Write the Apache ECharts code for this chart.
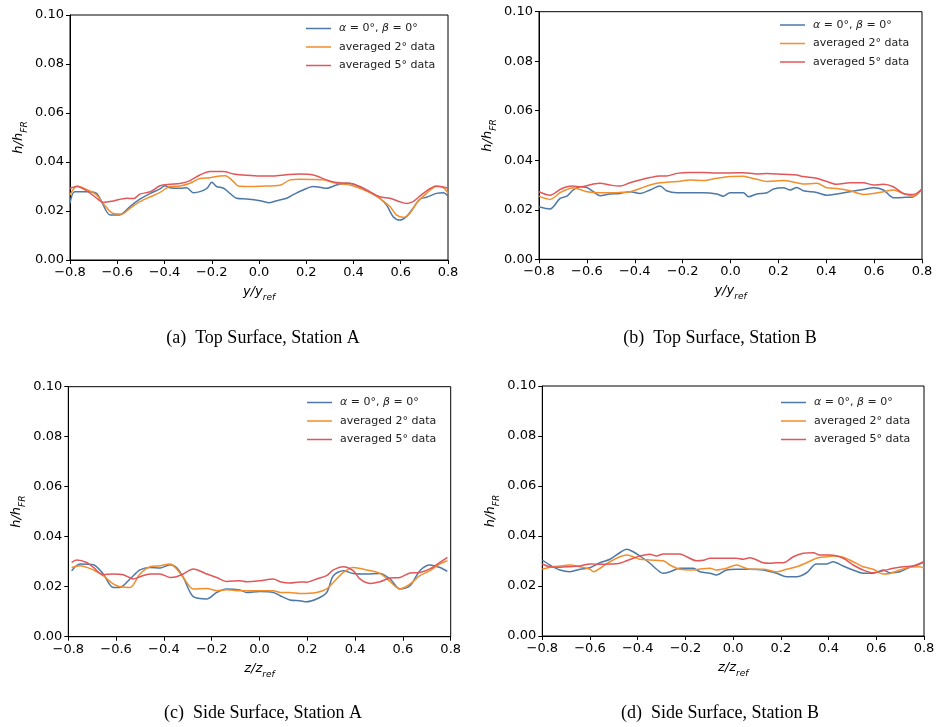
<!DOCTYPE html>
<html><head><meta charset="utf-8">
<script src="https://cdn.jsdelivr.net/npm/echarts@6/dist/echarts.min.js"></script>
<style>html,body{margin:0;padding:0;background:#fff}#c{width:943px;height:727px}</style>
</head><body><div id="c"></div>
<script>
// ---- data ----
const seriesNames = ['α = 0°, β = 0°', 'averaged 2° data', 'averaged 5° data'];
const captions = ['(a)  Top Surface, Station A', '(b)  Top Surface, Station B', '(c)  Side Surface, Station A', '(d)  Side Surface, Station B'];
const xTicks = [-0.8, -0.6, -0.4, -0.2, 0.0, 0.2, 0.4, 0.6, 0.8];
const yTicks = [0.00, 0.02, 0.04, 0.06, 0.08, 0.10];

// (a) Top Surface, Station A
const aBlueX = [-0.8,-0.78,-0.715,-0.687,-0.67,-0.63,-0.59,-0.546,-0.504,-0.46,-0.419,-0.398,-0.377,-0.334,-0.306,-0.278,-0.25,-0.22,-0.20,-0.18,-0.15,-0.123,-0.095,-0.052,0.004,0.04,0.075,0.117,0.145,0.187,0.23,0.258,0.286,0.328,0.37,0.399,0.427,0.469,0.511,0.54,0.568,0.596,0.624,0.652,0.68,0.709,0.751,0.78,0.8];
const aBlueY = [0.0231,0.0279,0.0279,0.0272,0.0245,0.0184,0.0184,0.0218,0.0248,0.0272,0.0290,0.0303,0.0295,0.0293,0.0295,0.0275,0.0279,0.0293,0.0317,0.0300,0.0293,0.0272,0.0252,0.0249,0.0242,0.0234,0.0242,0.0252,0.0267,0.0286,0.0300,0.0297,0.0293,0.0306,0.0313,0.0310,0.0297,0.0276,0.0252,0.0224,0.0177,0.0163,0.0177,0.0211,0.0248,0.0256,0.0272,0.0275,0.0261];
const aOrangeX = [-0.8,-0.77,-0.73,-0.687,-0.66,-0.617,-0.58,-0.546,-0.504,-0.46,-0.419,-0.377,-0.334,-0.292,-0.25,-0.207,-0.165,-0.143,-0.108,-0.087,-0.038,0.004,0.089,0.131,0.173,0.23,0.272,0.328,0.385,0.427,0.469,0.511,0.554,0.582,0.61,0.638,0.666,0.709,0.751,0.78,0.8];
const aOrangeY = [0.0265,0.0302,0.0288,0.0265,0.0231,0.0190,0.0188,0.0211,0.0238,0.0258,0.0276,0.0300,0.0302,0.0313,0.0333,0.0336,0.0343,0.0344,0.0320,0.0302,0.0300,0.0301,0.0305,0.0327,0.0330,0.0329,0.0327,0.0313,0.0306,0.0293,0.0275,0.0252,0.0218,0.0184,0.0174,0.0190,0.0231,0.0272,0.0300,0.0295,0.0272];
const aRedX = [-0.8,-0.77,-0.73,-0.687,-0.66,-0.617,-0.56,-0.53,-0.504,-0.46,-0.419,-0.377,-0.334,-0.292,-0.25,-0.207,-0.15,-0.108,-0.066,0.004,0.06,0.117,0.173,0.23,0.286,0.328,0.385,0.427,0.469,0.511,0.554,0.596,0.624,0.652,0.695,0.751,0.8];
const aRedY = [0.0293,0.0300,0.0283,0.0252,0.0235,0.0241,0.0252,0.0251,0.0269,0.0279,0.0303,0.0309,0.0312,0.0324,0.0347,0.0361,0.0361,0.0351,0.0347,0.0343,0.0343,0.0348,0.0351,0.0347,0.0327,0.0316,0.0313,0.0300,0.0279,0.0258,0.0252,0.0238,0.0231,0.0238,0.0272,0.0302,0.0293];

// (b) Top Surface, Station B
const bBlueX = [-0.8,-0.754,-0.712,-0.684,-0.657,-0.629,-0.60,-0.573,-0.545,-0.503,-0.462,-0.42,-0.378,-0.336,-0.294,-0.267,-0.225,-0.169,-0.113,-0.058,-0.03,-0.002,0.054,0.075,0.11,0.152,0.18,0.221,0.249,0.277,0.304,0.36,0.402,0.444,0.499,0.555,0.597,0.639,0.68,0.722,0.764,0.8];
const bBlueY = [0.0212,0.0203,0.0246,0.0255,0.0280,0.0293,0.0290,0.0273,0.0257,0.0264,0.0266,0.0273,0.0266,0.0280,0.0296,0.0277,0.0269,0.0269,0.0269,0.0264,0.0255,0.0269,0.0269,0.0253,0.0264,0.0269,0.0284,0.0289,0.0280,0.0290,0.0277,0.0270,0.0259,0.0264,0.0273,0.0282,0.0289,0.0280,0.0249,0.0250,0.0253,0.0284];
const bOrangeX = [-0.8,-0.754,-0.712,-0.684,-0.657,-0.629,-0.60,-0.545,-0.503,-0.462,-0.42,-0.378,-0.336,-0.294,-0.225,-0.169,-0.113,-0.058,-0.002,0.054,0.075,0.11,0.152,0.221,0.277,0.304,0.36,0.402,0.444,0.499,0.555,0.597,0.639,0.68,0.722,0.764,0.8];
const bOrangeY = [0.0255,0.0242,0.0269,0.0282,0.0289,0.0282,0.0273,0.0269,0.0269,0.0270,0.0273,0.0286,0.0300,0.0309,0.0314,0.0320,0.0318,0.0327,0.0334,0.0335,0.0331,0.0323,0.0314,0.0318,0.0309,0.0304,0.0307,0.0289,0.0286,0.0277,0.0262,0.0266,0.0273,0.0280,0.0266,0.0255,0.0284];
const bRedX = [-0.8,-0.754,-0.712,-0.684,-0.657,-0.629,-0.573,-0.545,-0.503,-0.462,-0.42,-0.378,-0.336,-0.294,-0.267,-0.225,-0.169,-0.113,-0.058,-0.002,0.054,0.11,0.152,0.221,0.277,0.304,0.36,0.402,0.444,0.499,0.555,0.597,0.639,0.68,0.722,0.764,0.8];
const bRedY = [0.0273,0.0259,0.0282,0.0293,0.0296,0.0293,0.0304,0.0307,0.0300,0.0296,0.0309,0.0320,0.0330,0.0336,0.0336,0.0347,0.0351,0.0351,0.0349,0.0349,0.0350,0.0345,0.0347,0.0343,0.0340,0.0334,0.0327,0.0314,0.0303,0.0309,0.0309,0.0300,0.0303,0.0293,0.0266,0.0262,0.0284];

// (c) Side Surface, Station A
const cBlueX = [-0.786,-0.751,-0.695,-0.654,-0.612,-0.584,-0.542,-0.50,-0.458,-0.416,-0.375,-0.347,-0.319,-0.277,-0.221,-0.179,-0.138,-0.082,-0.054,0.002,0.058,0.086,0.127,0.169,0.197,0.239,0.281,0.309,0.351,0.392,0.448,0.504,0.546,0.588,0.63,0.671,0.713,0.755,0.786];
const cBlueY = [0.0264,0.0291,0.0288,0.0251,0.0197,0.0197,0.0231,0.0267,0.0277,0.0275,0.0288,0.0277,0.0237,0.0160,0.0151,0.0177,0.0191,0.0187,0.0177,0.0181,0.0177,0.0164,0.0147,0.0144,0.0140,0.0151,0.0177,0.0244,0.0264,0.0253,0.0251,0.0253,0.0231,0.0191,0.0204,0.0264,0.0287,0.0277,0.0261];
const cOrangeX = [-0.786,-0.751,-0.695,-0.654,-0.612,-0.584,-0.542,-0.50,-0.458,-0.416,-0.375,-0.347,-0.319,-0.277,-0.221,-0.179,-0.138,-0.082,0.002,0.058,0.086,0.127,0.169,0.239,0.281,0.309,0.351,0.392,0.448,0.504,0.546,0.588,0.63,0.671,0.713,0.755,0.786];
const cOrangeY = [0.0277,0.0284,0.0267,0.0244,0.0211,0.0200,0.0197,0.0251,0.0280,0.0284,0.0291,0.0271,0.0237,0.0191,0.0193,0.0184,0.0188,0.0184,0.0184,0.0184,0.0177,0.0177,0.0173,0.0177,0.0191,0.0217,0.0257,0.0277,0.0267,0.0253,0.0221,0.0191,0.0211,0.0244,0.0264,0.0291,0.0304];
const cRedX = [-0.786,-0.765,-0.723,-0.695,-0.654,-0.612,-0.570,-0.528,-0.50,-0.458,-0.416,-0.375,-0.347,-0.319,-0.277,-0.221,-0.179,-0.138,-0.082,-0.054,0.002,0.058,0.086,0.127,0.169,0.197,0.239,0.281,0.309,0.351,0.392,0.420,0.462,0.504,0.546,0.588,0.63,0.671,0.713,0.755,0.786];
const cRedY = [0.0297,0.0307,0.0297,0.0277,0.0248,0.0251,0.0248,0.0231,0.0240,0.0251,0.0251,0.0237,0.0240,0.0251,0.0271,0.0251,0.0237,0.0221,0.0224,0.0220,0.0224,0.0231,0.0220,0.0215,0.0219,0.0218,0.0231,0.0244,0.0267,0.0280,0.0264,0.0231,0.0213,0.0220,0.0235,0.0237,0.0255,0.0257,0.0271,0.0297,0.0317];

// (d) Side Surface, Station B
const dBlueX = [-0.8,-0.768,-0.726,-0.684,-0.642,-0.60,-0.558,-0.516,-0.475,-0.447,-0.419,-0.391,-0.349,-0.321,-0.293,-0.265,-0.223,-0.167,-0.139,-0.097,-0.07,-0.028,0.014,0.07,0.126,0.182,0.224,0.266,0.308,0.349,0.391,0.419,0.461,0.503,0.545,0.587,0.629,0.657,0.699,0.74,0.782,0.8];
const dBlueY = [0.0304,0.0284,0.0264,0.0257,0.0267,0.0273,0.0293,0.0307,0.0333,0.0347,0.0337,0.0320,0.0291,0.0267,0.0251,0.0257,0.0271,0.0271,0.0257,0.0251,0.0244,0.0264,0.0267,0.0267,0.0264,0.0251,0.0237,0.0237,0.0253,0.0288,0.0288,0.0297,0.0280,0.0264,0.0251,0.0251,0.0264,0.0253,0.0257,0.0275,0.0288,0.0297];
const dOrangeX = [-0.8,-0.768,-0.726,-0.684,-0.642,-0.60,-0.586,-0.558,-0.516,-0.475,-0.447,-0.419,-0.391,-0.349,-0.293,-0.265,-0.223,-0.167,-0.139,-0.097,-0.07,-0.028,0.014,0.042,0.07,0.126,0.182,0.224,0.266,0.308,0.349,0.391,0.419,0.461,0.503,0.545,0.587,0.629,0.657,0.699,0.74,0.782,0.8];
const dOrangeY = [0.0267,0.0275,0.0280,0.0284,0.0277,0.0267,0.0257,0.0271,0.0297,0.0317,0.0324,0.0317,0.0307,0.0304,0.0301,0.0284,0.0267,0.0264,0.0268,0.0271,0.0264,0.0271,0.0284,0.0275,0.0267,0.0267,0.0257,0.0267,0.0277,0.0293,0.0311,0.0317,0.0320,0.0315,0.0297,0.0277,0.0267,0.0248,0.0250,0.0264,0.0275,0.0277,0.0271];
const dRedX = [-0.8,-0.768,-0.726,-0.684,-0.642,-0.60,-0.558,-0.516,-0.475,-0.447,-0.419,-0.391,-0.349,-0.321,-0.293,-0.223,-0.195,-0.153,-0.125,-0.097,-0.042,0.014,0.042,0.07,0.126,0.154,0.182,0.21,0.252,0.294,0.336,0.363,0.405,0.461,0.503,0.545,0.587,0.629,0.671,0.713,0.755,0.8];
const dRedY = [0.0288,0.0277,0.0275,0.0277,0.0280,0.0288,0.0287,0.0288,0.0291,0.0301,0.0311,0.0320,0.0327,0.0320,0.0328,0.0328,0.0317,0.0301,0.0303,0.0311,0.0311,0.0311,0.0307,0.0313,0.0293,0.0291,0.0293,0.0293,0.0317,0.0331,0.0333,0.0324,0.0324,0.0311,0.0284,0.0264,0.0253,0.0261,0.0271,0.0277,0.0280,0.0297];

const panels = [
  { xs: [aBlueX, aOrangeX, aRedX], ys: [aBlueY, aOrangeY, aRedY], xName: 'y' },
  { xs: [bBlueX, bOrangeX, bRedX], ys: [bBlueY, bOrangeY, bRedY], xName: 'y' },
  { xs: [cBlueX, cOrangeX, cRedX], ys: [cBlueY, cOrangeY, cRedY], xName: 'z' },
  { xs: [dBlueX, dOrangeX, dRedX], ys: [dBlueY, dOrangeY, dRedY], xName: 'z' }
];

// ---- layout / style ----
const colors = ['#4e79a7', '#f28e2b', '#e15759'];
const grids = [
  { left: 70, top: 15, width: 378, height: 245 },
  { left: 539, top: 11.7, width: 383, height: 247.6 },
  { left: 68.3, top: 386.7, width: 382.4, height: 250 },
  { left: 542.3, top: 386, width: 381.7, height: 250 }
];
const legendPos = [
  { left: 306, top: 23 }, { left: 780, top: 19.5 }, { left: 307, top: 397 }, { left: 781, top: 397 }
];
const captionPos = [
  { x: 258, y: 336 }, { x: 715, y: 336 }, { x: 258, y: 711 }, { x: 715, y: 711 }
];
const axisFont = 'DejaVu Sans';
const fmtX = v => { const s = (Math.round(v * 10) / 10).toFixed(1); return s.replace('-', '\u2212'); };
const fmtY = v => (Math.round(v * 100) / 100).toFixed(2);
const richName = {
  i: { fontFamily: axisFont, fontStyle: 'italic', fontSize: 13, color: '#000', lineHeight: 15, verticalAlign: 'top' },
  s: { fontFamily: axisFont, fontStyle: 'italic', fontSize: 9, color: '#000', lineHeight: 9, padding: [8, 0, 0, 0], verticalAlign: 'top' }
};

const option = {
  backgroundColor: '#fff',
  animation: false,
  grid: grids.map(g => Object.assign({ show: true, borderColor: '#000', borderWidth: 1, backgroundColor: 'transparent' }, g)),
  xAxis: panels.map((p, i) => ({
    type: 'value', gridIndex: i, min: xTicks[0], max: xTicks[xTicks.length - 1], interval: 0.2,
    name: `{i|${p.xName}/${p.xName}}{s|ref}`, nameLocation: 'middle', nameGap: 25,
    nameTextStyle: { rich: richName },
    axisLine: { show: true, onZero: false, lineStyle: { color: '#000', width: 1 } },
    axisTick: { show: true, inside: false, length: 4, lineStyle: { color: '#000' } },
    axisLabel: { formatter: fmtX, fontFamily: axisFont, fontSize: 13, color: '#000', margin: 6 },
    splitLine: { show: false }
  })),
  yAxis: panels.map((p, i) => ({
    type: 'value', gridIndex: i, min: yTicks[0], max: yTicks[yTicks.length - 1], interval: 0.02,
    name: '{i|h/h}{s|FR}', nameLocation: 'middle', nameGap: 43, nameRotate: 90,
    nameTextStyle: { rich: richName },
    axisLine: { show: true, onZero: false, lineStyle: { color: '#000', width: 1 } },
    axisTick: { show: true, inside: false, length: 4, lineStyle: { color: '#000' } },
    axisLabel: { formatter: fmtY, fontFamily: axisFont, fontSize: 13, color: '#000', margin: 6 },
    splitLine: { show: false }
  })),
  legend: panels.map((p, i) => ({
    data: seriesNames.map((n, k) => ({ name: n, icon: 'path://M0,0H50V3H0Z', itemStyle: { color: colors[k] } })),
    orient: 'vertical', left: legendPos[i].left, top: legendPos[i].top,
    itemWidth: 25, itemHeight: 11, itemGap: 7.5, padding: 0, symbolKeepAspect: true,
    formatter: n => n === seriesNames[0] ? '{g|α} = 0°, {g|β} = 0°' : n,
    textStyle: { fontFamily: axisFont, fontSize: 11, color: '#222', padding: [0, 0, 0, 3],
      rich: { g: { fontFamily: axisFont, fontStyle: 'italic', fontSize: 11, color: '#222' } } }
  })),
  title: captions.map((c, i) => ({
    text: c, left: captionPos[i].x, top: captionPos[i].y - 12, textAlign: 'center',
    textStyle: { fontFamily: 'Liberation Serif', fontSize: 18, fontWeight: 'normal', color: '#000' }
  })),
  series: []
};
panels.forEach((p, i) => {
  for (let k = 0; k < 3; k++) {
    option.series.push({
      name: seriesNames[k], type: 'line', xAxisIndex: i, yAxisIndex: i,
      data: p.xs[k].map((x, j) => [x, p.ys[k][j]]),
      showSymbol: false, symbol: 'none', smooth: 0.3,
      lineStyle: { color: colors[k], width: 1.5 }, itemStyle: { color: colors[k] },
      z: 2 + k
    });
  }
});
const chart = echarts.init(document.getElementById('c'), null, { renderer: 'canvas' });
chart.setOption(option);
</script></body></html>
